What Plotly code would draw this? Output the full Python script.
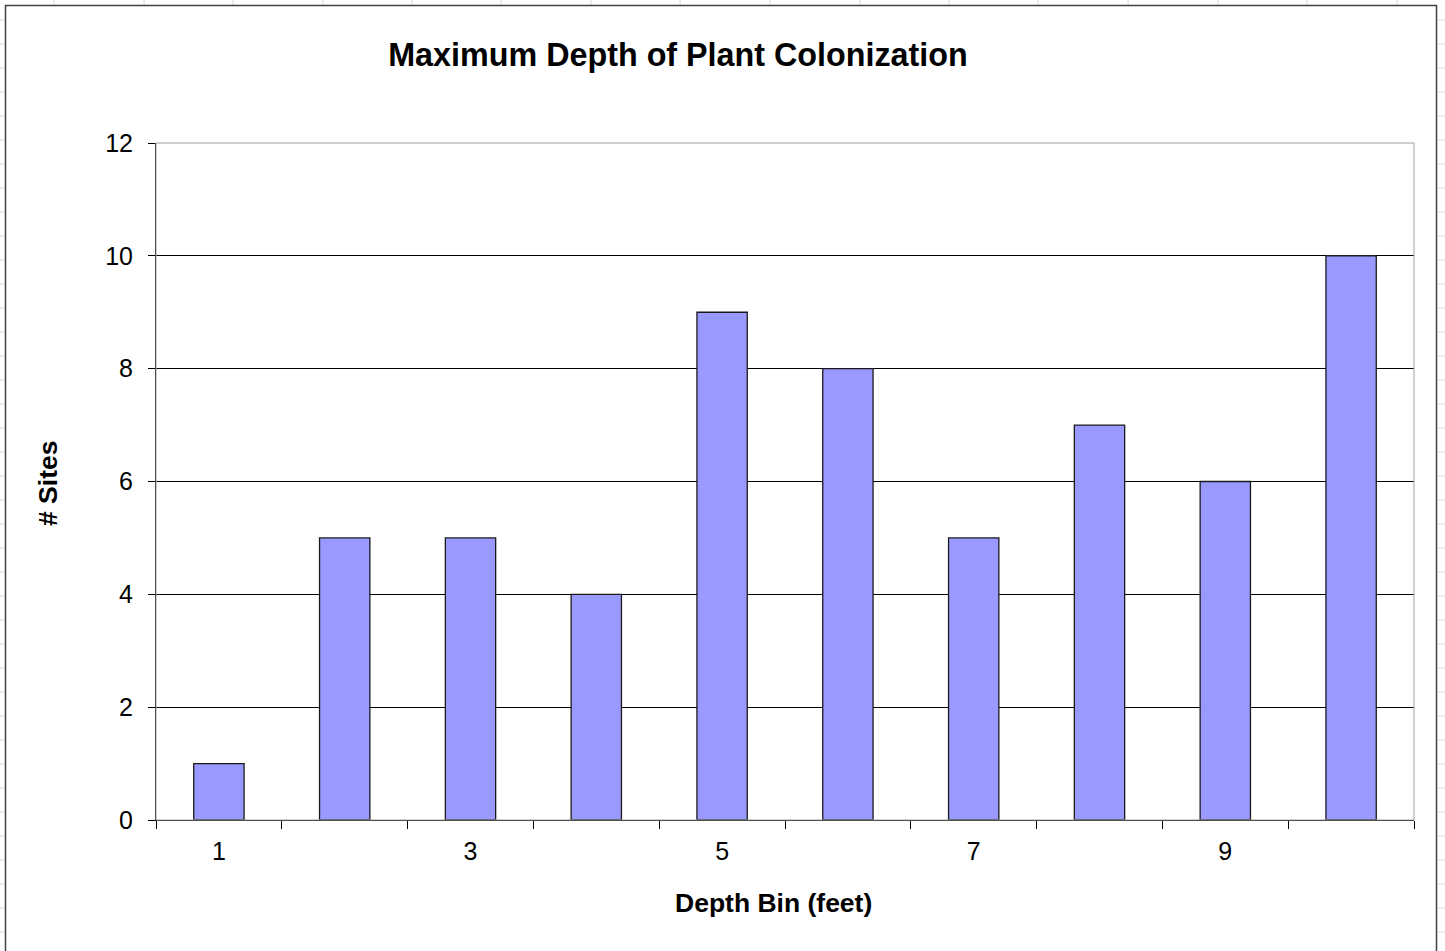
import plotly.graph_objects as go

# ---- data ----
depth_bins = ["1", "2", "3", "4", "5", "6", "7", "8", "9", "10"]
sites = [1, 5, 5, 4, 9, 8, 5, 7, 6, 10]
tick_labels = ["1", "", "3", "", "5", "", "7", "", "9", ""]

W, H = 1445, 951
L, R, T, B = 156, 1414, 143, 820  # plot area in pixels


def px_x(px):
    return (px - L) / (R - L)


def px_y(py):
    return (B - py) / (B - T)


fig = go.Figure()
fig.add_trace(go.Bar(
    x=depth_bins, y=sites,
    marker=dict(color="#9999FF", line=dict(color="#1a1a1a", width=1.3)),
    width=0.4,
))

shapes = []
# faint spreadsheet cell lines behind the chart object
for cx in [54, 144, 233, 323, 412, 501, 591, 680, 770, 860, 949, 1038, 1128, 1218, 1307, 1397]:
    shapes.append(dict(type="line", xref="paper", yref="paper",
                       x0=px_x(cx), x1=px_x(cx), y0=px_y(0), y1=px_y(5),
                       line=dict(color="#d8d8d8", width=1), layer="below"))
for ry in range(20, 951, 24):
    shapes.append(dict(type="line", xref="paper", yref="paper",
                       x0=px_x(0), x1=px_x(4.5), y0=px_y(ry), y1=px_y(ry),
                       line=dict(color="#d8d8d8", width=1), layer="below"))
    shapes.append(dict(type="line", xref="paper", yref="paper",
                       x0=px_x(1438), x1=px_x(1445), y0=px_y(ry), y1=px_y(ry),
                       line=dict(color="#d8d8d8", width=1), layer="below"))
# chart object frame
shapes.append(dict(type="rect", xref="paper", yref="paper",
                   x0=px_x(5.5), x1=px_x(1436.5), y0=px_y(960), y1=px_y(5.5),
                   line=dict(color="#404040", width=1.5), layer="below"))
# plot-area border (gray top/right)
shapes.append(dict(type="rect", xref="paper", yref="paper",
                   x0=0, x1=1, y0=0, y1=1,
                   line=dict(color="#a0a0a0", width=1), layer="above"))

annotations = [
    dict(text="<b>Depth Bin (feet)</b>", xref="paper", yref="paper",
         x=px_x(773), y=px_y(903), xanchor="center", yanchor="middle",
         showarrow=False, font=dict(size=26.5, color="#000000")),
    dict(text="<b># Sites</b>", xref="paper", yref="paper",
         x=px_x(48), y=px_y(484), xanchor="center", yanchor="middle",
         textangle=-90, showarrow=False, font=dict(size=26.5, color="#000000")),
]

fig.update_layout(
    width=W, height=H,
    margin=dict(l=L, r=W - R, t=T, b=H - B, pad=0),
    paper_bgcolor="white", plot_bgcolor="white",
    showlegend=False,
    font=dict(family="Liberation Sans, Arial, sans-serif", color="#000000"),
    title=dict(text="<b>Maximum Depth of Plant Colonization</b>",
               x=678 / W, xanchor="center", y=1 - 55 / H, yanchor="middle",
               font=dict(size=32.3, color="#000000")),
    shapes=shapes,
    annotations=annotations,
)
fig.update_xaxes(
    type="category",
    tickmode="array", tickvals=depth_bins, ticktext=tick_labels,
    tickson="boundaries", ticks="outside", ticklen=8, tickcolor="#000000", tickwidth=1,
    showline=True, linecolor="#000000", linewidth=1,
    showgrid=False,
    tickfont=dict(size=25), ticklabelstandoff=9,
)
fig.update_yaxes(
    range=[0, 12], dtick=2, tick0=0,
    ticks="outside", ticklen=7, tickcolor="#000000", tickwidth=1,
    showline=True, linecolor="#000000", linewidth=1,
    showgrid=True, gridcolor="#000000", gridwidth=1,
    zeroline=False,
    tickfont=dict(size=25), ticklabelstandoff=10,
)

fig.write_html("out.html", config={"displayModeBar": False},
               post_script="document.body.style.margin='0';")
